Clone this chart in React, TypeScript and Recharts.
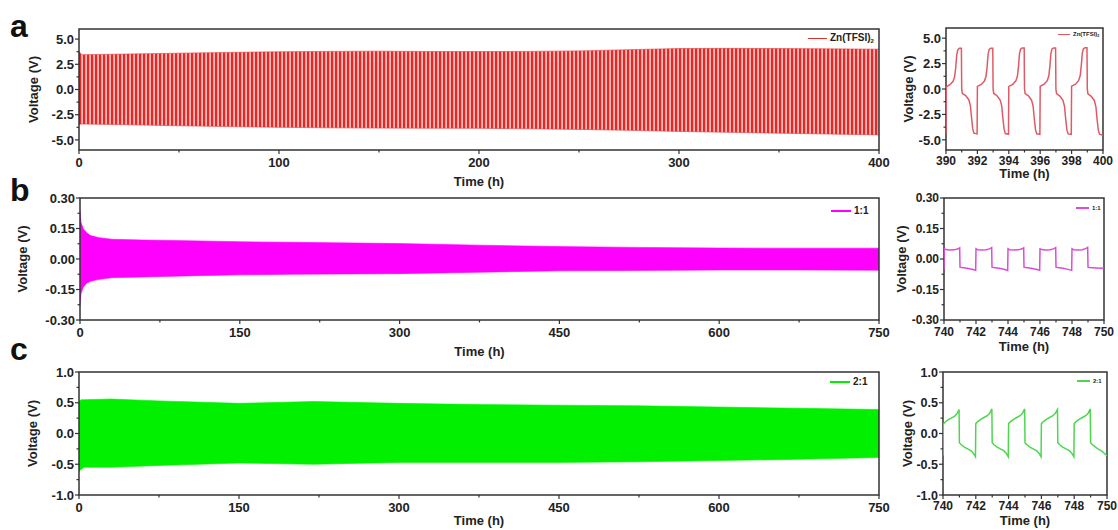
import React from "react"
import { ComposedChart, Line, Area, XAxis, YAxis, ReferenceArea, Legend, Label } from "recharts"

const FONT = "'Liberation Sans', Arial, Helvetica, sans-serif"
const INK = "#222"

// ---- panel a: Zn(TFSI)2, long cycling envelope (h, V)
const timeA = [0, 1.5, 10, 25, 50, 75, 100, 125, 150, 175, 200, 225, 250, 275, 300, 325, 350, 375, 400]
const upperA = [3.75, 3.45, 3.48, 3.52, 3.6, 3.68, 3.74, 3.78, 3.8, 3.77, 3.76, 3.78, 3.83, 3.95, 4.06, 4.08, 4.06, 4.03, 4.0]
const lowerA = [-3.45, -3.42, -3.45, -3.5, -3.6, -3.68, -3.75, -3.8, -3.83, -3.84, -3.85, -3.9, -3.96, -4.05, -4.16, -4.25, -4.33, -4.42, -4.5]

// ---- panel b: 1:1
const timeB = [0, 1, 3, 6, 10, 18, 30, 60, 100, 150, 200, 300, 375, 450, 525, 600, 675, 750]
const upperB = [0.24, 0.18, 0.15, 0.13, 0.115, 0.105, 0.097, 0.093, 0.09, 0.085, 0.082, 0.076, 0.068, 0.061, 0.057, 0.054, 0.053, 0.053]
const lowerB = [-0.23, -0.17, -0.14, -0.12, -0.11, -0.1, -0.092, -0.088, -0.083, -0.078, -0.075, -0.072, -0.065, -0.058, -0.056, -0.054, -0.054, -0.055]

// ---- panel c: 2:1
const timeC = [0, 2, 5, 30, 75, 150, 220, 300, 375, 450, 525, 600, 675, 750]
const upperC = [0.52, 0.55, 0.55, 0.56, 0.53, 0.49, 0.52, 0.49, 0.47, 0.46, 0.45, 0.43, 0.41, 0.39]
const lowerC = [-0.62, -0.58, -0.55, -0.55, -0.52, -0.48, -0.5, -0.47, -0.47, -0.47, -0.46, -0.44, -0.42, -0.39]

// ---- zoomed-in last cycles [time, voltage]
const insetA: [number, number][] = [
  [390.0, -4.4], [390.02, 0.22], [390.25, 0.42], [390.45, 0.75], [390.55, 1.2], [390.62, 2.1], [390.68, 3.3], [390.75, 3.85], [390.85, 4.0], [390.98, 4.0],
  [391.0, 0.0], [391.04, -0.42], [391.25, -0.64], [391.45, -1.05], [391.55, -1.6], [391.62, -2.7], [391.7, -3.9], [391.78, -4.35], [391.98, -4.42],
  [392.0, 0.25], [392.25, 0.45], [392.45, 0.78], [392.55, 1.25], [392.62, 2.2], [392.68, 3.4], [392.75, 3.9], [392.85, 4.02], [392.98, 4.02],
  [393.0, 0.0], [393.04, -0.44], [393.25, -0.66], [393.45, -1.08], [393.55, -1.65], [393.62, -2.8], [393.7, -3.95], [393.78, -4.38], [393.98, -4.45],
  [394.0, 0.26], [394.25, 0.46], [394.45, 0.8], [394.55, 1.28], [394.62, 2.25], [394.68, 3.45], [394.75, 3.92], [394.85, 4.03], [394.98, 4.03],
  [395.0, 0.0], [395.04, -0.45], [395.25, -0.68], [395.45, -1.1], [395.55, -1.7], [395.62, -2.85], [395.7, -4.0], [395.78, -4.4], [395.98, -4.46],
  [396.0, 0.27], [396.25, 0.47], [396.45, 0.82], [396.55, 1.3], [396.62, 2.3], [396.68, 3.48], [396.75, 3.94], [396.85, 4.04], [396.98, 4.04],
  [397.0, 0.0], [397.04, -0.46], [397.25, -0.7], [397.45, -1.12], [397.55, -1.72], [397.62, -2.9], [397.7, -4.02], [397.78, -4.42], [397.98, -4.47],
  [398.0, 0.28], [398.25, 0.48], [398.45, 0.84], [398.55, 1.32], [398.62, 2.35], [398.68, 3.5], [398.75, 3.95], [398.85, 4.05], [398.98, 4.05],
  [399.0, 0.0], [399.04, -0.47], [399.25, -0.72], [399.45, -1.15], [399.55, -1.75], [399.62, -2.95], [399.7, -4.05], [399.78, -4.45], [400.0, -4.55],
]

const insetB: [number, number][] = [
  [740.0, -0.052], [740.02, 0.05], [740.1, 0.047], [740.35, 0.044], [740.65, 0.045], [740.88, 0.05], [740.98, 0.055],
  [741.0, -0.04], [741.1, -0.042], [741.45, -0.045], [741.75, -0.05], [741.98, -0.055],
  [742.0, 0.05], [742.1, 0.046], [742.35, 0.044], [742.65, 0.046], [742.88, 0.051], [742.98, 0.056],
  [743.0, -0.04], [743.1, -0.042], [743.45, -0.046], [743.75, -0.05], [743.98, -0.056],
  [744.0, 0.05], [744.1, 0.046], [744.35, 0.044], [744.65, 0.045], [744.88, 0.05], [744.98, 0.055],
  [745.0, -0.04], [745.1, -0.042], [745.45, -0.045], [745.75, -0.05], [745.98, -0.055],
  [746.0, 0.05], [746.1, 0.047], [746.35, 0.044], [746.65, 0.046], [746.88, 0.051], [746.98, 0.056],
  [747.0, -0.04], [747.1, -0.042], [747.45, -0.046], [747.75, -0.051], [747.98, -0.056],
  [748.0, 0.05], [748.1, 0.046], [748.35, 0.044], [748.65, 0.046], [748.88, 0.052], [748.98, 0.057],
  [749.0, -0.04], [749.1, -0.042], [749.5, -0.044], [750.0, -0.046],
]

const insetC: [number, number][] = [
  [740.0, -0.36], [740.02, 0.15], [740.1, 0.18], [740.3, 0.22], [740.5, 0.25], [740.7, 0.28], [740.85, 0.32], [740.98, 0.39],
  [741.0, -0.15], [741.1, -0.18], [741.3, -0.22], [741.5, -0.25], [741.7, -0.28], [741.85, -0.32], [741.98, -0.38],
  [742.0, 0.16], [742.1, 0.19], [742.3, 0.23], [742.5, 0.26], [742.7, 0.29], [742.85, 0.33], [742.98, 0.4],
  [743.0, -0.15], [743.1, -0.18], [743.3, -0.22], [743.5, -0.25], [743.7, -0.28], [743.85, -0.32], [743.98, -0.38],
  [744.0, 0.16], [744.1, 0.19], [744.3, 0.23], [744.5, 0.26], [744.7, 0.29], [744.85, 0.33], [744.98, 0.4],
  [745.0, -0.15], [745.1, -0.18], [745.3, -0.22], [745.5, -0.25], [745.7, -0.28], [745.85, -0.32], [745.98, -0.38],
  [746.0, 0.16], [746.1, 0.19], [746.3, 0.23], [746.5, 0.26], [746.7, 0.29], [746.85, 0.33], [746.98, 0.39],
  [747.0, -0.15], [747.1, -0.18], [747.3, -0.22], [747.5, -0.25], [747.7, -0.28], [747.85, -0.32], [747.98, -0.38],
  [748.0, 0.16], [748.1, 0.19], [748.3, 0.23], [748.5, 0.26], [748.7, 0.29], [748.85, 0.33], [748.98, 0.4],
  [749.0, -0.15], [749.1, -0.18], [749.3, -0.22], [749.5, -0.26], [749.7, -0.29], [750.0, -0.36],
]

// tick sets
const xMajorA = [0, 100, 200, 300, 400]
const xMinorA = [50, 150, 250, 350]
const xMajorBC = [0, 150, 300, 450, 600, 750]
const xMinorBC = [75, 225, 375, 525, 675]
const xMajorInsetA = [390, 392, 394, 396, 398, 400]
const xMinorInsetA = [391, 393, 395, 397, 399]
const xMajorInsetBC = [740, 742, 744, 746, 748, 750]
const xMinorInsetBC = [741, 743, 745, 747, 749]
const yMajorA = [-5, -2.5, 0, 2.5, 5]
const yMinorA = [-3.75, -1.25, 1.25, 3.75]
const yMajorB = [-0.3, -0.15, 0, 0.15, 0.3]
const yMinorB = [-0.225, -0.075, 0.075, 0.225]
const yMajorC = [-1, -0.5, 0, 0.5, 1]
const yMinorC = [-0.75, -0.25, 0.25, 0.75]

const band = (t: number[], lo: number[], hi: number[]) => t.map((x, i) => ({ t: x, range: [lo[i], hi[i]] }))
const pts = (arr: [number, number][]) => arr.map(([t, v]) => ({ t, v }))

type Box = { left: number; top: number; width: number; height: number }
type Plot = { left: number; top: number; right: number; bottom: number }
type LegendSpec = { x: number; y: number; color: string; label: React.ReactNode; lineW: number; font: number }

type PanelProps = {
  box: Box
  plot: Plot
  data: any[]
  xDomain: [number, number]
  xMajor: number[]
  xMinor: number[]
  yDomain: [number, number]
  yMajor: number[]
  yMinor: number[]
  yFmt: (v: number) => string
  xFont: number
  yFont: number
  xTickDy: number
  xLabelY: number
  yLabelX: number
  legend: LegendSpec
  children: React.ReactNode
}

function Panel(p: PanelProps) {
  const { box, plot } = p
  const xTicks = [...p.xMajor, ...p.xMinor].sort((a, b) => a - b)
  const yTicks = [...p.yMajor, ...p.yMinor].sort((a, b) => a - b)
  const isMajor = (arr: number[], v: number) => arr.some((m) => Math.abs(m - v) < 1e-9)
  const textStyle = { fontFamily: FONT, fontWeight: 700, fill: INK }

  const xTick = (props: any) => {
    const { x, payload } = props
    const major = isMajor(p.xMajor, payload.value)
    return (
      <g>
        <line x1={x} x2={x} y1={plot.bottom} y2={plot.bottom + (major ? 4 : 2.5)} stroke="#333" strokeWidth={1.2} />
        {major && (
          <text x={x} y={plot.bottom + p.xTickDy} textAnchor="middle" fontSize={p.xFont} style={textStyle}>
            {payload.value}
          </text>
        )}
      </g>
    )
  }

  const yTick = (props: any) => {
    const { y, payload } = props
    const major = isMajor(p.yMajor, payload.value)
    return (
      <g>
        <line x1={plot.left} x2={plot.left - (major ? 4 : 2.5)} y1={y} y2={y} stroke="#333" strokeWidth={1.2} />
        {major && (
          <text x={plot.left - 5} y={y} dy="0.36em" textAnchor="end" fontSize={p.yFont} style={textStyle}>
            {p.yFmt(payload.value)}
          </text>
        )}
      </g>
    )
  }

  const cy = (plot.top + plot.bottom) / 2
  const cx = (plot.left + plot.right) / 2
  const lg = p.legend

  return (
    <div style={{ position: "absolute", left: box.left, top: box.top }}>
      <ComposedChart
        width={box.width}
        height={box.height}
        data={p.data}
        margin={{ top: plot.top, right: box.width - plot.right, bottom: 0, left: 0 }}
      >
        {p.children}
        <XAxis
          type="number"
          dataKey="t"
          domain={p.xDomain}
          ticks={xTicks}
          interval={0}
          allowDataOverflow
          axisLine={false}
          tickLine={false}
          height={box.height - plot.bottom}
          tick={xTick}
          label={
            <Label
              content={() => (
                <text x={cx} y={p.xLabelY} textAnchor="middle" fontSize={13} style={textStyle}>
                  Time (h)
                </text>
              )}
            />
          }
        />
        <YAxis
          type="number"
          domain={p.yDomain}
          ticks={yTicks}
          interval={0}
          allowDataOverflow
          axisLine={false}
          tickLine={false}
          width={plot.left}
          tick={yTick}
          label={
            <Label
              content={() => (
                <text
                  transform={`translate(${p.yLabelX},${cy}) rotate(-90)`}
                  textAnchor="middle"
                  dy="0.36em"
                  fontSize={13}
                  style={textStyle}
                >
                  Voltage (V)
                </text>
              )}
            />
          }
        />
        <ReferenceArea
          x1={p.xDomain[0]}
          x2={p.xDomain[1]}
          y1={p.yDomain[0]}
          y2={p.yDomain[1]}
          fill="none"
          fillOpacity={0}
          stroke="#333"
          strokeWidth={1.5}
          ifOverflow="visible"
        />
        <Legend
          layout="vertical"
          align="center"
          verticalAlign="middle"
          wrapperStyle={{ left: lg.x, top: lg.y, width: "auto", height: "auto" }}
          content={() => (
            <div
              style={{
                display: "flex",
                alignItems: "center",
                fontFamily: FONT,
                fontWeight: 700,
                fontSize: lg.font,
                color: INK,
                lineHeight: 1,
                whiteSpace: "nowrap",
              }}
            >
              <span style={{ display: "inline-block", width: lg.lineW, height: 1.5, background: lg.color, marginRight: 3 }} />
              <span>{lg.label}</span>
            </div>
          )}
        />
      </ComposedChart>
    </div>
  )
}

const ZnLabel = (
  <>
    Zn(TFSI)<sub style={{ fontSize: "0.6em", verticalAlign: "-0.25em" }}>2</sub>
  </>
)

const fmt1 = (v: number) => v.toFixed(1)
const fmt2 = (v: number) => v.toFixed(2)

export default function App() {
  return (
    <div style={{ position: "absolute", left: 0, top: 0, width: 1118, height: 530, background: "#fff", overflow: "hidden" }}>
      {/* a: main */}
      <Panel
        box={{ left: 0, top: 0, width: 900, height: 190 }}
        plot={{ left: 79, top: 29, right: 879, bottom: 150 }}
        data={band(timeA, lowerA, upperA)}
        xDomain={[0, 400]}
        xMajor={xMajorA}
        xMinor={xMinorA}
        yDomain={[-6, 6]}
        yMajor={yMajorA}
        yMinor={yMinorA}
        yFmt={fmt1}
        xFont={13}
        yFont={13}
        xTickDy={17}
        xLabelY={186}
        yLabelX={33}
        legend={{ x: 808, y: 33, color: "#e0302e", label: ZnLabel, lineW: 19, font: 10 }}
      >
        <defs>
          <pattern id="stripesA" patternUnits="userSpaceOnUse" x={79} y={0} width={4} height={8}>
            <rect width={4} height={8} fill="#f6b6b4" />
            <rect width={2.2} height={8} fill="#e02a2a" />
          </pattern>
        </defs>
        <Area type="linear" dataKey="range" stroke="#e03a3a" strokeWidth={0.6} fill="url(#stripesA)" fillOpacity={1} isAnimationActive={false} />
      </Panel>

      {/* a: inset */}
      <Panel
        box={{ left: 880, top: 0, width: 238, height: 190 }}
        plot={{ left: 66, top: 28, right: 223, bottom: 150 }}
        data={pts(insetA)}
        xDomain={[390, 400]}
        xMajor={xMajorInsetA}
        xMinor={xMinorInsetA}
        yDomain={[-6, 6]}
        yMajor={yMajorA}
        yMinor={yMinorA}
        yFmt={fmt1}
        xFont={12}
        yFont={13}
        xTickDy={15}
        xLabelY={178}
        yLabelX={28}
        legend={{ x: 178, y: 31, color: "#e05a66", label: ZnLabel, lineW: 12, font: 6 }}
      >
        <Line type="linear" dataKey="v" stroke="#e05a66" strokeWidth={1.5} dot={false} isAnimationActive={false} />
      </Panel>

      {/* b: main */}
      <Panel
        box={{ left: 0, top: 180, width: 900, height: 180 }}
        plot={{ left: 80, top: 18, right: 879, bottom: 140 }}
        data={band(timeB, lowerB, upperB)}
        xDomain={[0, 750]}
        xMajor={xMajorBC}
        xMinor={xMinorBC}
        yDomain={[-0.3, 0.3]}
        yMajor={yMajorB}
        yMinor={yMinorB}
        yFmt={fmt2}
        xFont={13}
        yFont={13}
        xTickDy={17}
        xLabelY={176}
        yLabelX={22}
        legend={{ x: 831, y: 26, color: "#ff00ff", label: "1:1", lineW: 20, font: 10 }}
      >
        <Area type="linear" dataKey="range" stroke="#ff00ff" strokeWidth={0.6} fill="#ff00ff" fillOpacity={1} isAnimationActive={false} />
      </Panel>

      {/* b: inset */}
      <Panel
        box={{ left: 880, top: 180, width: 238, height: 180 }}
        plot={{ left: 64, top: 18, right: 224, bottom: 140 }}
        data={pts(insetB)}
        xDomain={[740, 750]}
        xMajor={xMajorInsetBC}
        xMinor={xMinorInsetBC}
        yDomain={[-0.3, 0.3]}
        yMajor={yMajorB}
        yMinor={yMinorB}
        yFmt={fmt2}
        xFont={12}
        yFont={12}
        xTickDy={16}
        xLabelY={171}
        yLabelX={21}
        legend={{ x: 196, y: 25, color: "#d94ed9", label: "1:1", lineW: 13, font: 6 }}
      >
        <Line type="linear" dataKey="v" stroke="#d94ed9" strokeWidth={1.5} dot={false} isAnimationActive={false} />
      </Panel>

      {/* c: main */}
      <Panel
        box={{ left: 0, top: 355, width: 900, height: 175 }}
        plot={{ left: 79, top: 17, right: 879, bottom: 140 }}
        data={band(timeC, lowerC, upperC)}
        xDomain={[0, 750]}
        xMajor={xMajorBC}
        xMinor={xMinorBC}
        yDomain={[-1, 1]}
        yMajor={yMajorC}
        yMinor={yMinorC}
        yFmt={fmt1}
        xFont={13}
        yFont={13}
        xTickDy={17}
        xLabelY={170}
        yLabelX={32}
        legend={{ x: 830, y: 22, color: "#00f000", label: "2:1", lineW: 20, font: 10 }}
      >
        <Area type="linear" dataKey="range" stroke="#00f000" strokeWidth={0.6} fill="#00f000" fillOpacity={1} isAnimationActive={false} />
      </Panel>

      {/* c: inset */}
      <Panel
        box={{ left: 880, top: 355, width: 238, height: 175 }}
        plot={{ left: 63, top: 17, right: 227, bottom: 140 }}
        data={pts(insetC)}
        xDomain={[740, 750]}
        xMajor={xMajorInsetBC}
        xMinor={xMinorInsetBC}
        yDomain={[-1, 1]}
        yMajor={yMajorC}
        yMinor={yMinorC}
        yFmt={fmt1}
        xFont={12}
        yFont={12.5}
        xTickDy={15}
        xLabelY={170}
        yLabelX={27}
        legend={{ x: 197, y: 23, color: "#4fd64f", label: "2:1", lineW: 13, font: 6 }}
      >
        <Line type="linear" dataKey="v" stroke="#4fd64f" strokeWidth={1.5} dot={false} isAnimationActive={false} />
      </Panel>

      {/* panel letters */}
      <svg width={1118} height={530} style={{ position: "absolute", left: 0, top: 0, pointerEvents: "none" }}>
        <g style={{ fontFamily: FONT, fontWeight: 700, fill: "#111" }} fontSize={32}>
          <text x={10} y={37}>a</text>
          <text x={10} y={201}>b</text>
          <text x={10} y={360}>c</text>
        </g>
      </svg>
    </div>
  )
}
